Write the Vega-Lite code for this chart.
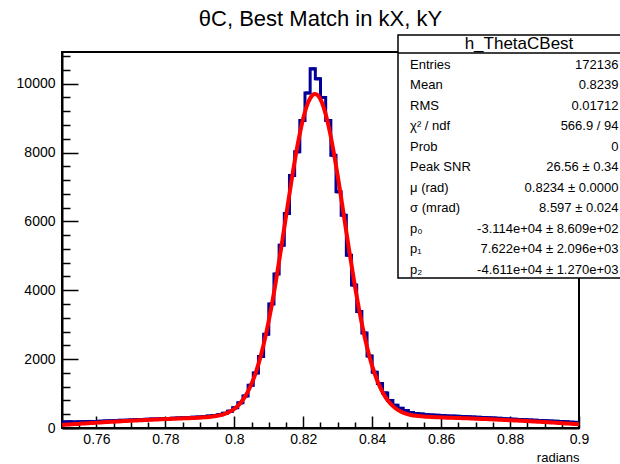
{
  "$schema": "https://vega.github.io/schema/vega-lite/v6.json",
  "width": 517,
  "height": 376,
  "autosize": {"type": "none"},
  "padding": {"left": 62, "top": 52, "right": 41, "bottom": 36},
  "background": "white",
  "title": {"text": "θC, Best Match in kX, kY", "font": "Liberation Sans", "fontSize": 22, "fontWeight": "normal", "color": "black", "anchor": "middle", "frame": "group", "offset": -14, "baseline": "alphabetic"},
  "config": {
    "view": {"stroke": null},
    "font": "Liberation Sans",
    "axis": {"domainColor": "black", "domainWidth": 2, "tickColor": "black", "tickWidth": 1.5, "labelFont": "Liberation Sans", "labelFontSize": 14, "labelColor": "black", "grid": false, "titleFont": "Liberation Sans", "titleFontWeight": "normal", "titleColor": "black"}
  },
  "datasets": {
    "hist": [
      {"lo":0.75,"hi":0.7515,"n":175},{"lo":0.7515,"hi":0.753,"n":180},{"lo":0.753,"hi":0.7545,"n":172},{"lo":0.7545,"hi":0.756,"n":178},{"lo":0.756,"hi":0.7575,"n":185},
      {"lo":0.7575,"hi":0.759,"n":190},{"lo":0.759,"hi":0.7605,"n":188},{"lo":0.7605,"hi":0.762,"n":196},{"lo":0.762,"hi":0.7635,"n":205},{"lo":0.7635,"hi":0.765,"n":210},
      {"lo":0.765,"hi":0.7665,"n":215},{"lo":0.7665,"hi":0.768,"n":222},{"lo":0.768,"hi":0.7695,"n":228},{"lo":0.7695,"hi":0.771,"n":235},{"lo":0.771,"hi":0.7725,"n":240},
      {"lo":0.7725,"hi":0.774,"n":246},{"lo":0.774,"hi":0.7755,"n":252},{"lo":0.7755,"hi":0.777,"n":258},{"lo":0.777,"hi":0.7785,"n":262},{"lo":0.7785,"hi":0.78,"n":268},
      {"lo":0.78,"hi":0.7815,"n":275},{"lo":0.7815,"hi":0.783,"n":282},{"lo":0.783,"hi":0.7845,"n":290},{"lo":0.7845,"hi":0.786,"n":296},{"lo":0.786,"hi":0.7875,"n":305},
      {"lo":0.7875,"hi":0.789,"n":312},{"lo":0.789,"hi":0.7905,"n":318},{"lo":0.7905,"hi":0.792,"n":330},{"lo":0.792,"hi":0.7935,"n":345},{"lo":0.7935,"hi":0.795,"n":362},
      {"lo":0.795,"hi":0.7965,"n":385},{"lo":0.7965,"hi":0.798,"n":425},{"lo":0.798,"hi":0.7995,"n":490},{"lo":0.7995,"hi":0.801,"n":590},{"lo":0.801,"hi":0.8025,"n":730},
      {"lo":0.8025,"hi":0.804,"n":930},{"lo":0.804,"hi":0.8055,"n":1240},{"lo":0.8055,"hi":0.807,"n":1600},{"lo":0.807,"hi":0.8085,"n":2080},{"lo":0.8085,"hi":0.81,"n":2720},
      {"lo":0.81,"hi":0.8115,"n":3600},{"lo":0.8115,"hi":0.813,"n":4470},{"lo":0.813,"hi":0.8145,"n":5310},{"lo":0.8145,"hi":0.816,"n":6230},{"lo":0.816,"hi":0.8175,"n":7330},
      {"lo":0.8175,"hi":0.819,"n":8020},{"lo":0.819,"hi":0.8205,"n":8930},{"lo":0.8205,"hi":0.822,"n":9730},{"lo":0.822,"hi":0.8235,"n":10430},{"lo":0.8235,"hi":0.825,"n":10140},
      {"lo":0.825,"hi":0.8265,"n":9600},{"lo":0.8265,"hi":0.828,"n":8930},{"lo":0.828,"hi":0.8295,"n":7920},{"lo":0.8295,"hi":0.831,"n":6860},{"lo":0.831,"hi":0.8325,"n":6180},
      {"lo":0.8325,"hi":0.834,"n":5020},{"lo":0.834,"hi":0.8355,"n":4150},{"lo":0.8355,"hi":0.837,"n":3380},{"lo":0.837,"hi":0.8385,"n":2760},{"lo":0.8385,"hi":0.84,"n":2090},
      {"lo":0.84,"hi":0.8415,"n":1620},{"lo":0.8415,"hi":0.843,"n":1290},{"lo":0.843,"hi":0.8445,"n":1020},{"lo":0.8445,"hi":0.846,"n":800},{"lo":0.846,"hi":0.8475,"n":660},
      {"lo":0.8475,"hi":0.849,"n":570},{"lo":0.849,"hi":0.8505,"n":505},{"lo":0.8505,"hi":0.852,"n":450},{"lo":0.852,"hi":0.8535,"n":420},{"lo":0.8535,"hi":0.855,"n":405},
      {"lo":0.855,"hi":0.8565,"n":385},{"lo":0.8565,"hi":0.858,"n":378},{"lo":0.858,"hi":0.8595,"n":370},{"lo":0.8595,"hi":0.861,"n":362},{"lo":0.861,"hi":0.8625,"n":352},
      {"lo":0.8625,"hi":0.864,"n":345},{"lo":0.864,"hi":0.8655,"n":340},{"lo":0.8655,"hi":0.867,"n":332},{"lo":0.867,"hi":0.8685,"n":325},{"lo":0.8685,"hi":0.87,"n":318},
      {"lo":0.87,"hi":0.8715,"n":310},{"lo":0.8715,"hi":0.873,"n":302},{"lo":0.873,"hi":0.8745,"n":295},{"lo":0.8745,"hi":0.876,"n":290},{"lo":0.876,"hi":0.8775,"n":280},
      {"lo":0.8775,"hi":0.879,"n":272},{"lo":0.879,"hi":0.8805,"n":262},{"lo":0.8805,"hi":0.882,"n":255},{"lo":0.882,"hi":0.8835,"n":246},{"lo":0.8835,"hi":0.885,"n":240},
      {"lo":0.885,"hi":0.8865,"n":232},{"lo":0.8865,"hi":0.888,"n":225},{"lo":0.888,"hi":0.8895,"n":218},{"lo":0.8895,"hi":0.891,"n":210},{"lo":0.891,"hi":0.8925,"n":200},
      {"lo":0.8925,"hi":0.894,"n":195},{"lo":0.894,"hi":0.8955,"n":188},{"lo":0.8955,"hi":0.897,"n":178},{"lo":0.897,"hi":0.8985,"n":170},{"lo":0.8985,"hi":0.9,"n":165}
    ],
    "fit": [
      {"x":0.75,"y":88},{"x":0.75075,"y":93},{"x":0.75225,"y":104},{"x":0.75375,"y":114},{"x":0.75525,"y":124},{"x":0.75675,"y":134},
      {"x":0.75825,"y":143},{"x":0.75975,"y":153},{"x":0.76125,"y":162},{"x":0.76275,"y":171},{"x":0.76425,"y":179},{"x":0.76575,"y":188},
      {"x":0.76725,"y":196},{"x":0.76875,"y":204},{"x":0.77025,"y":212},{"x":0.77175,"y":220},{"x":0.77325,"y":227},{"x":0.77475,"y":235},
      {"x":0.77625,"y":242},{"x":0.77775,"y":248},{"x":0.77925,"y":255},{"x":0.78075,"y":262},{"x":0.78225,"y":268},{"x":0.78375,"y":274},
      {"x":0.78525,"y":280},{"x":0.78675,"y":286},{"x":0.78825,"y":293},{"x":0.78975,"y":300},{"x":0.79125,"y":309},{"x":0.79275,"y":322},
      {"x":0.79425,"y":340},{"x":0.79575,"y":367},{"x":0.79725,"y":410},{"x":0.79875,"y":476},{"x":0.80025,"y":575},{"x":0.80175,"y":722},
      {"x":0.80325,"y":933},{"x":0.80475,"y":1225},{"x":0.80625,"y":1617},{"x":0.80775,"y":2124},{"x":0.80925,"y":2756},{"x":0.81075,"y":3512},
      {"x":0.81225,"y":4379},{"x":0.81375,"y":5328},{"x":0.81525,"y":6315},{"x":0.81675,"y":7283},{"x":0.81825,"y":8164},{"x":0.81975,"y":8896},
      {"x":0.82125,"y":9414},{"x":0.82275,"y":9676},{"x":0.8234,"y":9703},{"x":0.82425,"y":9657},{"x":0.82575,"y":9360},{"x":0.82725,"y":8812},
      {"x":0.82875,"y":8058},{"x":0.83025,"y":7161},{"x":0.83175,"y":6188},{"x":0.83325,"y":5204},{"x":0.83475,"y":4264},{"x":0.83625,"y":3412},
      {"x":0.83775,"y":2673},{"x":0.83925,"y":2059},{"x":0.84075,"y":1568},{"x":0.84225,"y":1192},{"x":0.84375,"y":912},{"x":0.84525,"y":712},
      {"x":0.84675,"y":573},{"x":0.84825,"y":480},{"x":0.84975,"y":418},{"x":0.85125,"y":379},{"x":0.85275,"y":354},{"x":0.85425,"y":338},
      {"x":0.85575,"y":327},{"x":0.85725,"y":318},{"x":0.85875,"y":312},{"x":0.86025,"y":307},{"x":0.86175,"y":301},{"x":0.86325,"y":296},
      {"x":0.86475,"y":291},{"x":0.86625,"y":285},{"x":0.86775,"y":280},{"x":0.86925,"y":274},{"x":0.87075,"y":268},{"x":0.87225,"y":262},
      {"x":0.87375,"y":255},{"x":0.87525,"y":248},{"x":0.87675,"y":242},{"x":0.87825,"y":235},{"x":0.87975,"y":227},{"x":0.88125,"y":220},
      {"x":0.88275,"y":212},{"x":0.88425,"y":204},{"x":0.88575,"y":196},{"x":0.88725,"y":188},{"x":0.88875,"y":179},{"x":0.89025,"y":171},
      {"x":0.89175,"y":162},{"x":0.89325,"y":153},{"x":0.89475,"y":143},{"x":0.89625,"y":134},{"x":0.89775,"y":124},{"x":0.89925,"y":114},{"x":0.9,"y":109}
    ],
    "stats": [
      {"row":1,"label":"Entries","value":"172136"},
      {"row":2,"label":"Mean","value":"0.8239"},
      {"row":3,"label":"RMS","value":"0.01712"},
      {"row":4,"label":"χ² / ndf","value":"566.9 / 94"},
      {"row":5,"label":"Prob","value":"0"},
      {"row":6,"label":"Peak SNR","value":"26.56 ± 0.34"},
      {"row":7,"label":"μ (rad)","value":"0.8234 ± 0.0000"},
      {"row":8,"label":"σ (mrad)","value":"8.597 ± 0.024"},
      {"row":9,"label":"p₀","value":"-3.114e+04  ± 8.609e+02"},
      {"row":10,"label":"p₁","value":"7.622e+04 ± 2.096e+03"},
      {"row":11,"label":"p₂","value":"-4.611e+04 ± 1.270e+03"}
    ],
    "statsTitle": [{"row":0,"label":"h_ThetaCBest"}]
  },
  "layer": [
    {
      "layer": [
        {
          "data": {"values": [{}]},
          "mark": {"type": "rect", "filled": false, "stroke": "black", "strokeWidth": 2},
          "encoding": {
            "x": {"datum": 0.75, "type": "quantitative", "scale": {"domain": [0.75, 0.9], "nice": false, "zero": false}, "axis": null},
            "x2": {"datum": 0.9},
            "y": {"datum": 0, "type": "quantitative", "scale": {"domain": [0, 10920], "nice": false, "zero": false}, "axis": null},
            "y2": {"datum": 10920}
          }
        },
        {
          "data": {"name": "hist"},
          "mark": {"type": "line", "interpolate": "step-after", "stroke": "#000099", "strokeWidth": 3},
          "encoding": {
            "x": {"field": "lo", "type": "quantitative", "scale": {"domain": [0.75, 0.9], "nice": false, "zero": false},
                  "axis": {"orient": "bottom", "values": [0.76, 0.78, 0.8, 0.82, 0.84, 0.86, 0.88, 0.9], "format": ".2~f", "tickSize": -12, "labelPadding": 16, "labelFlush": false, "labelOverlap": false, "title": "radians", "titleAnchor": "end", "titleFontSize": 13, "titlePadding": 5}},
            "y": {"field": "n", "type": "quantitative", "scale": {"domain": [0, 10920], "nice": false, "zero": false},
                  "axis": {"orient": "left", "values": [0, 2000, 4000, 6000, 8000, 10000], "format": "d", "tickSize": -16, "labelPadding": 23, "labelFlush": false, "labelOverlap": false, "title": null}}
          }
        },
        {
          "data": {"name": "hist"},
          "mark": {"type": "rule", "stroke": "#000099", "strokeWidth": 3},
          "encoding": {
            "x": {"field": "lo", "type": "quantitative", "scale": {"domain": [0.75, 0.9], "nice": false, "zero": false}, "axis": null},
            "x2": {"field": "hi"},
            "y": {"field": "n", "type": "quantitative", "scale": {"domain": [0, 10920], "nice": false, "zero": false}, "axis": null}
          }
        },
        {
          "data": {"name": "fit"},
          "mark": {"type": "line", "interpolate": "monotone", "stroke": "#ff0000", "strokeWidth": 4},
          "encoding": {
            "x": {"field": "x", "type": "quantitative", "scale": {"domain": [0.75, 0.9], "nice": false, "zero": false},
                  "axis": {"orient": "bottom", "values": [0.755, 0.765, 0.77, 0.775, 0.785, 0.79, 0.795, 0.805, 0.81, 0.815, 0.825, 0.83, 0.835, 0.845, 0.85, 0.855, 0.865, 0.87, 0.875, 0.885, 0.89, 0.895], "labels": false, "domain": false, "tickSize": -6, "title": null}},
            "y": {"field": "y", "type": "quantitative", "scale": {"domain": [0, 10920], "nice": false, "zero": false},
                  "axis": {"orient": "left", "values": [400, 800, 1200, 1600, 2400, 2800, 3200, 3600, 4400, 4800, 5200, 5600, 6400, 6800, 7200, 7600, 8400, 8800, 9200, 9600, 10400, 10800], "labels": false, "domain": false, "tickSize": -8, "title": null}}
          }
        }
      ],
      "resolve": {"axis": {"x": "independent", "y": "independent"}}
    },
    {
      "layer": [
        {
          "data": {"values": [{}]},
          "mark": {"type": "rect", "fill": "white", "stroke": "black", "strokeWidth": 1.5},
          "encoding": {
            "x": {"datum": 0, "type": "quantitative", "scale": {"domain": [0, 1], "range": [336, 578], "nice": false, "zero": false}, "axis": null},
            "x2": {"datum": 1},
            "y": {"datum": -0.44, "type": "quantitative", "scale": {"domain": [0, 11], "range": [-8, 217.5], "nice": false, "zero": false}, "axis": null},
            "y2": {"datum": 11.41}
          }
        },
        {
          "data": {"values": [{}]},
          "mark": {"type": "rule", "stroke": "black", "strokeWidth": 1.5},
          "encoding": {
            "x": {"datum": 0, "type": "quantitative", "scale": {"domain": [0, 1], "range": [336, 578], "nice": false, "zero": false}, "axis": null},
            "x2": {"datum": 1},
            "y": {"datum": 0.44, "type": "quantitative", "scale": {"domain": [0, 11], "range": [-8, 217.5], "nice": false, "zero": false}, "axis": null}
          }
        },
        {
          "data": {"name": "statsTitle"},
          "mark": {"type": "text", "font": "Liberation Sans", "fontSize": 17, "align": "center", "baseline": "middle", "color": "black"},
          "encoding": {
            "x": {"datum": 0.5, "type": "quantitative", "scale": {"domain": [0, 1], "range": [336, 578], "nice": false, "zero": false}, "axis": null},
            "y": {"field": "row", "type": "quantitative", "scale": {"domain": [0, 11], "range": [-8, 217.5], "nice": false, "zero": false}, "axis": null},
            "text": {"field": "label"}
          }
        },
        {
          "data": {"name": "stats"},
          "mark": {"type": "text", "font": "Liberation Sans", "fontSize": 13, "align": "left", "baseline": "middle", "color": "black"},
          "encoding": {
            "x": {"datum": 0.05, "type": "quantitative", "scale": {"domain": [0, 1], "range": [336, 578], "nice": false, "zero": false}, "axis": null},
            "y": {"field": "row", "type": "quantitative", "scale": {"domain": [0, 11], "range": [-8, 217.5], "nice": false, "zero": false}, "axis": null},
            "text": {"field": "label"}
          }
        },
        {
          "data": {"name": "stats"},
          "mark": {"type": "text", "font": "Liberation Sans", "fontSize": 13, "align": "right", "baseline": "middle", "color": "black"},
          "encoding": {
            "x": {"datum": 0.911, "type": "quantitative", "scale": {"domain": [0, 1], "range": [336, 578], "nice": false, "zero": false}, "axis": null},
            "y": {"field": "row", "type": "quantitative", "scale": {"domain": [0, 11], "range": [-8, 217.5], "nice": false, "zero": false}, "axis": null},
            "text": {"field": "value"}
          }
        }
      ]
    }
  ],
  "resolve": {"scale": {"x": "independent", "y": "independent"}}
}
